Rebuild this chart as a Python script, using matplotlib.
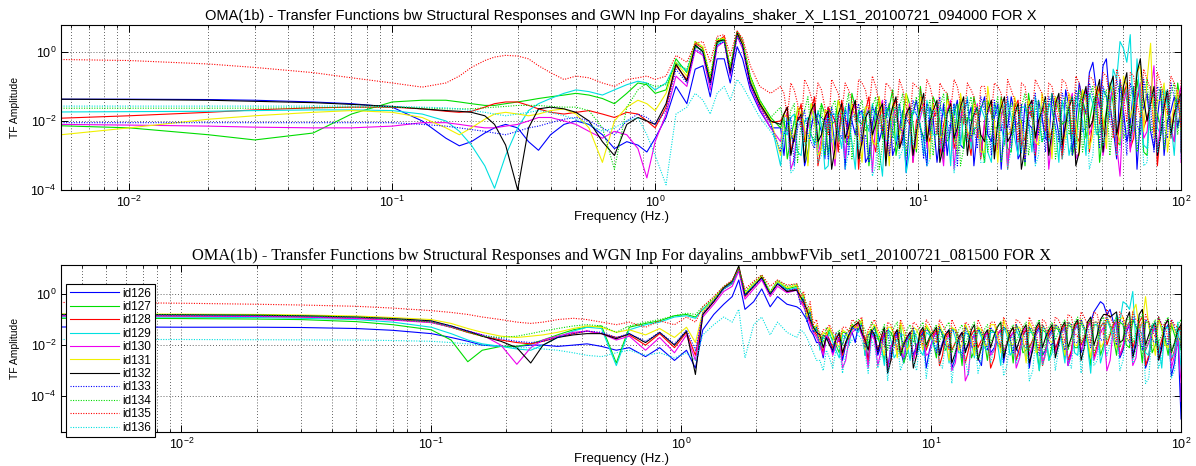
import numpy as np
import matplotlib
matplotlib.use("Agg")
import matplotlib.pyplot as plt
from matplotlib.ticker import FixedLocator, LogLocator, NullLocator

#############################
#####       DATOS       #####
#############################

ids = ['id126', 'id127', 'id128', 'id129', 'id130', 'id131',
       'id132', 'id133', 'id134', 'id135', 'id136']
colores = ['#0000ff', '#00dd00', '#ff0000', '#00e0e0', '#ee00ee', '#f0f000',
           '#000000', '#0000ff', '#00dd00', '#ff0000', '#00e0e0']
estilos = ['-'] * 7 + [':'] * 4

titulo_sup = ("OMA(1b) - Transfer Functions bw Structural Responses and GWN Inp "
              "For dayalins_shaker_X_L1S1_20100721_094000 FOR X")
titulo_inf = ("OMA(1b) - Transfer Functions bw Structural Responses and WGN Inp "
              "For dayalins_ambbwFVib_set1_20100721_081500 FOR X")

# frecuencias (Hz) de la parte suave de cada panel
f_lo_sup = [0.0055, 0.01, 0.02, 0.03, 0.05, 0.07, 0.1, 0.13, 0.16, 0.18,
            0.2, 0.225, 0.245, 0.27, 0.3, 0.33, 0.36, 0.4, 0.45, 0.5,
            0.56, 0.63, 0.7, 0.78, 0.86, 0.93, 1.0, 1.1, 1.2, 1.32,
            1.42, 1.52, 1.62, 1.72, 1.83, 1.93, 2.05, 2.15, 2.3, 2.5,
            2.75]
f_lo_inf = [0.0033, 0.006, 0.01, 0.02, 0.03, 0.05, 0.07, 0.1, 0.12, 0.14,
            0.16, 0.19, 0.22, 0.25, 0.28, 0.32, 0.37, 0.42, 0.48, 0.55,
            0.62, 0.72, 0.82, 0.94, 1.05, 1.14, 1.22, 1.35, 1.48, 1.6,
            1.7, 1.8, 1.95, 2.1, 2.27, 2.43, 2.65, 2.9]

# frecuencias (Hz) de la parte ruidosa: rejilla a y rejilla b (intercaladas)
f_hi_a = [3.00, 3.18, 3.38, 3.59, 3.81, 4.04, 4.29, 4.55, 4.83, 5.12,
          5.44, 5.77, 6.12, 6.50, 6.90, 7.32, 7.77, 8.24, 8.75, 9.28,
          9.85, 10.5, 11.1, 11.8, 12.5, 13.3, 14.1, 14.9, 15.9, 16.8,
          17.9, 19.0, 20.1, 21.3, 22.6, 24.0, 25.5, 27.1, 28.7, 30.5,
          32.3, 34.3, 36.4, 38.6, 41.0, 43.5, 46.2, 49.0, 52.0, 55.2,
          58.6, 62.2, 66.0, 70.0, 74.3, 78.9, 83.7, 88.8, 94.2, 100.0]
f_hi_b = [3.09, 3.28, 3.48, 3.70, 3.92, 4.16, 4.42, 4.69, 4.97, 5.28,
          5.60, 5.94, 6.31, 6.70, 7.11, 7.54, 8.00, 8.49, 9.01, 9.56,
          10.2, 10.8, 11.4, 12.1, 12.9, 13.7, 14.5, 15.4, 16.3, 17.3,
          18.4, 19.5, 20.7, 21.9, 23.3, 24.7, 26.3, 27.9, 29.6, 31.4,
          33.3, 35.3, 37.5, 39.8, 42.2, 44.8, 47.6, 50.5, 53.6, 56.9,
          60.4, 64.1, 68.0, 72.1, 76.6, 81.3, 86.2, 91.5, 97.1, 100.0]

# ---- panel superior (shaker), log10 de la amplitud ----
sup_lo_126 = [-1.37, -1.37, -1.38, -1.40, -1.45, -1.50, -1.60, -2.00, -2.50, -2.72,
              -2.60, -2.35, -2.20, -2.10, -2.20, -2.60, -2.85, -2.40, -2.10, -2.00,
              -2.10, -2.40, -2.80, -2.60, -2.70, -2.90, -2.50, -1.90, -1.00, -1.50,
              -0.50, -0.40, -1.30, -0.20, -0.20, -0.90, 0.15, -0.20, -1.10, -1.70,
              -2.20]
sup_lo_127 = [-2.14, -2.20, -2.40, -2.55, -2.35, -1.80, -1.45, -1.40, -1.40, -1.45,
              -1.50, -1.55, -1.55, -1.50, -1.45, -1.40, -1.35, -1.30, -1.25, -1.20,
              -1.25, -1.35, -1.50, -1.20, -0.90, -0.95, -1.20, -1.10, -0.20, -0.60,
              0.15, 0.05, -0.80, 0.25, 0.40, -0.45, 0.50, 0.25, -0.70, -1.40,
              -1.90]
sup_lo_128 = [-1.92, -1.85, -1.75, -1.68, -1.62, -1.60, -1.60, -1.65, -1.72, -1.75,
              -1.72, -1.60, -1.50, -1.45, -1.45, -1.55, -1.65, -1.75, -1.80, -1.75,
              -1.70, -1.80, -1.90, -1.75, -1.80, -2.00, -2.20, -1.60, -0.40, -0.80,
              0.25, 0.10, -0.85, 0.30, 0.45, -0.55, 0.60, 0.30, -0.85, -1.55,
              -2.05]
sup_lo_129 = [-1.74, -1.73, -1.72, -1.70, -1.68, -1.68, -1.70, -1.80, -2.00, -2.30,
              -2.70, -3.30, -3.95, -3.00, -2.20, -1.70, -1.50, -1.35, -1.20, -1.10,
              -1.15, -1.25, -1.10, -0.95, -0.85, -0.90, -1.10, -0.90, -0.30, -0.55,
              0.20, 0.00, -0.90, 0.20, 0.35, -0.60, 0.55, 0.20, -0.80, -1.50,
              -2.00]
sup_lo_130 = [-2.10, -2.12, -2.15, -2.18, -2.20, -2.20, -2.15, -2.05, -2.05, -2.10,
              -2.15, -2.20, -2.20, -2.15, -2.10, -2.00, -1.90, -1.90, -2.00, -2.10,
              -2.30, -2.50, -2.30, -2.40, -2.80, -3.65, -2.60, -1.80, -0.70, -1.00,
              0.05, -0.10, -1.10, 0.15, 0.30, -0.70, 0.45, 0.10, -1.00, -1.65,
              -2.20]
sup_lo_131 = [-2.40, -2.20, -1.95, -1.85, -1.75, -1.70, -1.75, -1.90, -2.20, -2.40,
              -2.20, -1.95, -1.80, -1.75, -1.80, -1.85, -1.80, -1.70, -1.65, -1.80,
              -2.20, -3.20, -2.00, -1.60, -1.40, -1.50, -1.70, -1.20, -0.30, -0.70,
              0.30, 0.15, -0.75, 0.35, 0.40, -0.45, 0.50, 0.25, -0.75, -1.45,
              -1.95]
sup_lo_132 = [-1.37, -1.38, -1.40, -1.43, -1.47, -1.52, -1.58, -1.65, -1.70, -1.72,
              -1.75, -1.85, -2.10, -2.70, -4.00, -2.20, -1.65, -1.60, -1.65, -1.75,
              -2.00, -2.60, -3.00, -2.10, -1.90, -2.00, -2.10, -1.50, -0.35, -0.85,
              0.20, 0.00, -0.90, 0.30, 0.35, -0.60, 0.55, 0.20, -0.90, -1.50,
              -2.00]
sup_lo_133 = [-2.05, -2.05, -2.05, -2.05, -2.05, -2.05, -2.05, -2.10, -2.15, -2.20,
              -2.25, -2.30, -2.35, -2.40, -2.30, -2.20, -2.15, -2.05, -1.95, -1.90,
              -2.00, -2.20, -2.40, -2.00, -1.80, -1.90, -2.10, -1.70, -0.50, -0.90,
              0.10, -0.05, -0.95, 0.20, 0.30, -0.65, 0.45, 0.15, -0.95, -1.60,
              -2.10]
sup_lo_134 = [-1.63, -1.63, -1.63, -1.63, -1.62, -1.60, -1.60, -1.62, -1.65, -1.65,
              -1.65, -1.62, -1.60, -1.58, -1.55, -1.55, -1.55, -1.58, -1.60, -1.60,
              -1.70, -2.20, -3.40, -1.60, -1.10, -0.90, -1.00, -0.95, -0.35, -0.50,
              0.30, 0.10, -0.70, 0.40, 0.35, -0.40, 0.60, 0.35, -0.70, -1.40,
              -1.90]
sup_lo_135 = [-0.22, -0.25, -0.35, -0.45, -0.60, -0.75, -0.90, -1.02, -0.90, -0.70,
              -0.45, -0.25, -0.15, -0.10, -0.12, -0.20, -0.40, -0.60, -0.80, -0.70,
              -0.75, -0.90, -1.00, -0.80, -0.75, -0.70, -0.80, -0.70, -0.10, -0.30,
              0.25, 0.30, -0.30, 0.45, 0.50, -0.10, 0.60, 0.40, -0.40, -1.00,
              -1.20]
sup_lo_136 = [-1.57, -1.57, -1.57, -1.57, -1.57, -1.57, -1.58, -1.60, -1.62, -1.65,
              -1.70, -1.75, -1.80, -1.85, -1.80, -1.75, -1.70, -1.75, -1.85, -1.95,
              -2.10, -2.30, -2.20, -2.00, -1.90, -2.40, -3.00, -3.85, -1.80, -1.60,
              -1.20, -1.40, -1.80, -1.20, -1.00, -1.40, -0.80, -1.00, -1.40, -1.90,
              -2.30]

# valores en la rejilla a
sup_ha_126 = [-2.2, -1.8, -2.6, -1.9, -2.9, -1.7, -2.3, -1.6, -2.8, -1.8,
              -1.5, -2.4, -1.7, -3.0, -1.6, -2.2, -1.5, -2.7, -1.7, -2.0,
              -1.4, -2.5, -1.6, -3.2, -1.5, -2.1, -1.4, -2.8, -1.6, -2.3,
              -1.3, -2.6, -1.5, -2.0, -1.3, -3.1, -1.5, -2.2, -1.4, -2.5,
              -1.2, -2.4, -1.1, -2.9, -0.9, -1.8, -0.3, -1.6, -0.2, -2.2,
              -0.8, -2.6, -1.0, -1.9, -1.2, -2.8, -1.1, -2.0, -1.3, -1.6]
sup_ha_127 = [-1.9, -2.5, -1.7, -2.3, -1.5, -2.8, -1.8, -2.1, -1.4, -2.6,
              -1.2, -2.0, -1.6, -2.5, -1.3, -1.9, -1.1, -2.4, -1.2, -2.1,
              -1.0, -2.3, -1.3, -2.0, -1.2, -2.6, -1.4, -1.9, -1.3, -2.5,
              -1.4, -2.2, -1.3, -2.8, -1.5, -2.0, -1.2, -2.4, -1.6, -2.9,
              -1.3, -2.1, -1.4, -2.6, -1.1, -2.0, -1.2, -2.3, -0.9, -2.6,
              -1.0, -2.2, -0.8, -2.9, -1.0, -1.8, -1.1, -2.4, -0.9, -1.7]
sup_ha_128 = [-2.0, -1.6, -2.4, -1.5, -2.1, -1.3, -2.7, -1.6, -2.0, -1.4,
              -2.5, -1.5, -2.2, -1.3, -2.9, -1.6, -2.1, -1.4, -2.3, -1.7,
              -2.0, -1.5, -2.6, -1.7, -2.1, -1.5, -2.4, -1.6, -3.0, -1.8,
              -2.1, -1.5, -2.7, -1.6, -2.2, -1.4, -2.5, -1.7, -2.0, -1.5,
              -2.3, -1.4, -2.0, -1.3, -2.6, -1.2, -1.9, -1.0, -2.4, -1.1,
              -1.8, -0.9, -2.5, -1.0, -1.9, -1.2, -2.2, -1.1, -1.7, -1.3]
sup_ha_129 = [-2.3, -1.9, -2.9, -2.0, -2.4, -1.7, -3.4, -1.8, -2.2, -1.6,
              -2.6, -1.7, -2.0, -1.5, -2.8, -1.6, -2.3, -1.5, -3.5, -1.7,
              -2.1, -1.4, -2.4, -1.6, -2.0, -1.5, -2.7, -1.3, -2.2, -1.6,
              -2.9, -1.5, -2.1, -1.4, -2.5, -1.6, -2.0, -1.3, -2.6, -1.5,
              -2.2, -1.4, -3.0, -1.3, -2.0, -1.2, -2.4, -1.1, -1.9, -0.8,
              0.10, 0.50, -0.2, -2.7, -1.3, -2.2, -1.0, -2.0, -1.4, -1.8]
sup_ha_130 = [-2.6, -1.8, -3.1, -1.9, -2.2, -1.6, -2.5, -1.7, -3.3, -1.8,
              -2.1, -1.5, -2.7, -1.6, -2.0, -1.4, -3.0, -1.6, -2.3, -1.5,
              -2.4, -1.5, -2.1, -1.6, -3.3, -1.4, -2.2, -1.6, -2.6, -1.5,
              -2.0, -1.4, -2.8, -1.5, -2.3, -1.6, -3.1, -1.4, -2.1, -1.5,
              -2.5, -1.3, -2.2, -1.2, -2.9, -1.1, -2.1, -1.3, -2.4, -1.0,
              -3.6, -1.1, -2.0, -0.9, -2.3, -0.4, -1.9, -1.2, -2.6, -1.0]
sup_ha_131 = [-1.8, -2.4, -1.6, -2.2, -1.5, -3.0, -1.7, -2.1, -1.4, -2.5,
              -1.5, -2.2, -1.6, -2.6, -1.3, -2.0, -1.5, -2.4, -1.2, -2.8,
              -1.3, -2.1, -1.5, -2.5, -1.4, -2.0, -1.2, -2.3, -1.5, -2.9,
              -1.0, -2.0, -1.4, -2.4, -1.3, -2.1, -1.4, -2.6, -1.2, -2.0,
              -1.3, -2.5, -1.2, -2.1, -1.1, -2.8, -1.0, -1.9, -0.9, -2.3,
              -0.7, -1.9, -0.6, -2.3, 0.25, -1.4, -0.9, -2.1, -1.1, -1.8]
sup_ha_132 = [-2.1, -1.6, -2.5, -1.8, -2.0, -1.5, -2.4, -1.7, -2.8, -1.5,
              -2.2, -1.4, -2.6, -1.7, -2.1, -1.5, -2.0, -1.3, -2.5, -1.6,
              -2.3, -1.2, -2.0, -1.4, -2.7, -1.5, -2.2, -1.3, -2.1, -1.6,
              -2.6, -1.4, -2.0, -1.3, -2.4, -1.5, -2.8, -1.4, -2.0, -1.3,
              -2.3, -1.2, -2.1, -1.3, -2.9, -1.0, -2.0, -0.8, -1.8, -0.7,
              -1.9, -0.6, -1.7, -0.2, -2.0, -1.0, -2.4, -1.1, -1.8, -1.2]
sup_ha_133 = [-2.4, -1.9, -2.2, -1.7, -2.6, -1.8, -2.0, -1.6, -2.3, -1.7,
              -1.9, -1.5, -2.4, -1.6, -2.0, -1.4, -2.2, -1.5, -1.9, -1.4,
              -2.2, -1.5, -1.9, -1.3, -2.4, -1.5, -2.0, -1.4, -2.2, -1.3,
              -1.9, -1.4, -2.3, -1.3, -2.0, -1.5, -2.1, -1.2, -1.8, -1.3,
              -2.2, -1.2, -1.8, -1.1, -2.3, -0.9, -1.7, -1.0, -2.0, -0.8,
              -1.8, -0.9, -2.1, -0.8, -1.6, -1.0, -2.2, -0.9, -1.5, -1.1]
sup_ha_134 = [-1.6, -2.3, -1.5, -2.0, -1.3, -2.6, -1.5, -2.2, -1.4, -1.9,
              -1.2, -2.4, -1.4, -2.1, -1.3, -2.7, -1.5, -2.0, -1.2, -2.3,
              -1.3, -2.5, -1.4, -2.0, -1.2, -2.3, -1.5, -2.8, -1.3, -2.0,
              -1.4, -2.2, -1.3, -2.6, -1.5, -2.1, -1.2, -2.3, -1.4, -2.0,
              -1.2, -2.4, -1.3, -2.0, -1.1, -2.2, -1.0, -2.5, -1.1, -2.0,
              -0.9, -2.3, -1.0, -1.9, -0.8, -2.1, -1.0, -1.8, -0.9, -1.6]
sup_ha_135 = [-1.2, -0.9, -1.5, -0.8, -1.3, -0.9, -1.6, -0.8, -1.2, -0.9,
              -1.4, -0.8, -1.1, -0.7, -1.5, -0.9, -1.2, -0.8, -1.6, -0.9,
              -1.1, -0.8, -1.4, -0.9, -1.2, -0.8, -1.5, -0.9, -1.3, -1.0,
              -1.6, -0.9, -1.2, -0.8, -1.4, -0.9, -1.7, -0.8, -1.2, -0.9,
              -1.5, -0.8, -1.3, -0.7, -1.6, -0.7, -1.2, -0.6, -1.4, -0.5,
              -1.3, -0.6, -1.5, -0.5, -1.1, -0.6, -1.4, -0.7, -1.2, -0.8]
sup_ha_136 = [-2.8, -2.0, -3.4, -2.1, -2.6, -1.8, -3.0, -1.9, -2.4, -1.7,
              -2.9, -1.8, -2.3, -1.7, -3.3, -1.8, -2.5, -1.6, -2.8, -1.7,
              -2.2, -1.6, -3.1, -1.7, -2.4, -1.6, -2.9, -1.5, -2.3, -1.6,
              -3.2, -1.6, -2.5, -1.5, -2.8, -1.6, -2.2, -1.5, -3.0, -1.4,
              -2.4, -1.4, -2.7, -1.3, -2.1, -1.2, -3.0, -1.2, -2.3, -1.0,
              -2.8, -1.1, -2.0, -1.0, -3.2, -1.2, -2.4, -1.1, -2.1, -1.3]

# valores en la rejilla b
sup_hb_126 = [-3.0, -2.4, -1.9, -3.3, -2.2, -2.0, -3.1, -1.9, -2.4, -3.4,
              -2.0, -1.8, -3.2, -2.1, -2.6, -1.9, -3.0, -2.2, -3.5, -1.8,
              -2.2, -3.3, -1.9, -2.5, -3.0, -1.8, -2.7, -2.0, -3.3, -1.7,
              -2.4, -1.9, -3.4, -2.2, -1.8, -2.9, -2.1, -3.2, -1.9, -2.6,
              -1.8, -3.0, -1.6, -2.0, -1.4, -0.6, -1.1, -0.4, -1.5, -3.1,
              -1.7, -2.1, -3.4, -1.6, -2.3, -1.9, -3.0, -1.7, -2.2, -1.9]
sup_hb_127 = [-2.2, -3.1, -2.0, -1.6, -3.2, -2.0, -1.5, -3.0, -2.0, -1.7,
              -2.7, -1.6, -2.1, -3.3, -1.7, -2.5, -1.6, -3.0, -1.8, -1.5,
              -2.9, -1.8, -2.4, -1.6, -3.1, -1.9, -1.7, -2.8, -2.0, -1.8,
              -3.2, -1.8, -2.2, -1.9, -2.9, -1.7, -3.3, -1.9, -2.1, -1.8,
              -2.8, -1.7, -2.0, -3.0, -1.6, -2.5, -1.5, -3.2, -1.7, -1.5,
              -2.7, -1.4, -2.1, -1.5, -3.0, -1.6, -2.2, -1.4, -2.6, -1.6]
sup_hb_128 = [-1.8, -2.9, -1.9, -2.6, -1.7, -3.3, -2.0, -1.8, -2.9, -1.9,
              -1.8, -3.4, -1.7, -2.5, -1.9, -3.1, -1.6, -2.8, -1.9, -3.2,
              -1.7, -2.3, -1.9, -3.0, -1.7, -2.8, -1.9, -2.4, -1.8, -3.1,
              -1.7, -2.9, -1.8, -3.4, -1.6, -2.7, -1.8, -3.0, -1.7, -2.5,
              -1.6, -3.1, -1.6, -2.4, -1.5, -2.9, -1.4, -2.2, -1.5, -3.0,
              -1.3, -2.8, -1.4, -2.2, -1.5, -3.3, -1.4, -2.5, -1.6, -2.0]
sup_hb_129 = [-3.3, -2.4, -1.8, -3.0, -1.9, -2.7, -2.1, -3.3, -1.8, -2.8,
              -2.0, -3.4, -1.8, -2.3, -2.0, -3.6, -1.9, -2.6, -2.2, -2.9,
              -1.8, -3.0, -1.9, -2.4, -1.8, -3.3, -2.0, -1.9, -2.8, -2.2,
              -1.9, -3.2, -1.8, -2.7, -1.9, -3.0, -1.6, -2.9, -1.8, -2.4,
              -1.7, -3.2, -1.9, -2.5, -1.6, -3.0, -1.5, -2.3, -1.3, -0.5,
              0.3, -0.3, -2.3, -1.6, -2.8, -1.5, -2.4, -1.6, -3.0, -2.0]
sup_hb_130 = [-1.9, -3.4, -2.0, -2.4, -1.8, -3.0, -2.1, -2.6, -1.9, -3.1,
              -1.8, -2.4, -1.9, -3.5, -1.7, -2.6, -1.9, -2.2, -1.8, -3.2,
              -1.9, -2.8, -1.8, -2.5, -1.7, -3.4, -1.9, -2.3, -1.8, -3.0,
              -1.8, -2.5, -1.9, -3.3, -1.8, -2.2, -1.7, -2.9, -1.8, -3.4,
              -1.7, -2.6, -1.5, -3.1, -1.5, -2.4, -1.6, -3.0, -1.4, -2.7,
              -1.5, -2.9, -1.3, -2.5, -1.2, -3.0, -1.5, -2.2, -1.4, -3.2]
sup_hb_131 = [-3.0, -1.9, -2.5, -1.8, -3.3, -2.0, -2.8, -1.7, -3.1, -1.8,
              -2.4, -1.9, -3.2, -1.6, -2.7, -1.8, -3.3, -1.6, -2.2, -1.9,
              -2.8, -1.7, -3.1, -1.8, -2.4, -1.6, -3.0, -1.8, -2.5, -1.6,
              -2.9, -1.8, -3.2, -1.7, -2.3, -1.8, -3.0, -1.6, -2.7, -1.7,
              -3.1, -1.6, -2.5, -1.5, -3.0, -1.4, -2.4, -1.3, -2.8, -1.2,
              -2.6, -1.0, -1.5, -0.4, -0.8, -2.5, -1.4, -2.9, -1.5, -2.3]
sup_hb_132 = [-1.8, -3.0, -2.0, -3.2, -1.7, -2.6, -1.9, -3.4, -1.8, -2.5,
              -1.7, -3.1, -1.9, -2.4, -1.7, -3.3, -1.6, -2.8, -1.8, -3.0,
              -1.6, -2.6, -1.7, -3.2, -1.8, -2.5, -1.6, -3.0, -1.8, -2.4,
              -1.7, -3.1, -1.6, -2.6, -1.8, -3.4, -1.6, -2.5, -1.7, -3.0,
              -1.5, -2.7, -1.6, -3.3, -1.4, -2.2, -1.2, -2.9, -1.0, -2.4,
              -1.0, -2.6, -0.6, -1.4, -1.5, -3.0, -1.6, -2.4, -1.5, -2.9]
sup_hb_133 = [-2.9, -2.1, -3.3, -2.0, -2.4, -2.8, -1.9, -3.1, -2.0, -2.5,
              -3.0, -1.8, -2.6, -3.2, -1.8, -2.4, -3.0, -1.8, -2.7, -2.1,
              -1.8, -3.1, -2.3, -1.8, -2.9, -2.0, -3.3, -1.8, -2.5, -2.8,
              -1.7, -3.0, -2.0, -1.8, -2.8, -2.1, -3.2, -1.6, -2.4, -2.9,
              -1.6, -2.6, -1.5, -3.0, -1.4, -2.2, -1.3, -2.8, -1.3, -2.3,
              -1.3, -3.0, -1.3, -2.4, -1.4, -2.9, -1.2, -2.5, -1.3, -2.1]
sup_hb_134 = [-2.1, -1.7, -3.2, -1.7, -2.4, -1.8, -3.0, -1.6, -2.6, -1.7,
              -3.1, -1.7, -2.3, -1.6, -3.4, -1.8, -2.5, -1.6, -3.0, -1.7,
              -2.2, -1.7, -3.0, -1.6, -2.6, -1.8, -3.3, -1.7, -2.4, -1.6,
              -2.9, -1.7, -3.2, -1.8, -2.3, -1.6, -3.0, -1.7, -2.6, -1.6,
              -3.1, -1.6, -2.4, -1.4, -2.9, -1.3, -2.3, -1.4, -3.0, -1.3,
              -2.5, -1.3, -2.9, -1.2, -2.3, -1.3, -2.8, -1.2, -2.4, -1.4]
sup_hb_135 = [-1.0, -1.9, -1.1, -2.2, -1.0, -1.7, -1.1, -2.4, -1.0, -1.8,
              -1.1, -2.0, -0.9, -1.7, -1.0, -2.3, -1.0, -1.9, -1.1, -2.1,
              -1.0, -1.8, -1.0, -2.4, -1.1, -1.7, -1.0, -2.1, -1.1, -2.5,
              -1.0, -1.8, -1.0, -2.2, -1.1, -2.6, -1.0, -1.9, -1.0, -2.3,
              -1.0, -2.0, -0.9, -2.4, -0.9, -1.8, -0.8, -2.1, -0.7, -2.5,
              -0.8, -2.0, -0.7, -1.9, -0.8, -2.3, -0.9, -1.8, -0.9, -2.2]
sup_hb_136 = [-1.9, -3.5, -2.0, -2.7, -1.9, -3.2, -2.0, -2.6, -1.8, -3.4,
              -1.9, -2.8, -1.8, -3.6, -1.9, -2.6, -1.8, -3.1, -1.9, -2.7,
              -1.8, -3.3, -1.7, -2.8, -1.8, -3.5, -1.7, -2.6, -1.8, -3.2,
              -1.7, -2.7, -1.8, -3.4, -1.7, -2.9, -1.6, -3.3, -1.6, -2.6,
              -1.6, -3.1, -1.5, -2.8, -1.4, -3.4, -1.3, -2.7, -1.2, -3.0,
              -1.3, -2.6, -1.2, -3.3, -1.3, -2.9, -1.2, -2.5, -1.4, -3.1]

# ---- panel inferior (ambiental), log10 de la amplitud ----
inf_lo_126 = [-1.29, -1.29, -1.30, -1.30, -1.31, -1.35, -1.42, -1.55, -1.70, -1.85,
              -2.00, -2.05, -2.05, -2.00, -2.00, -2.05, -2.00, -1.95, -2.05, -2.20,
              -2.10, -2.45, -2.10, -2.60, -2.20, -2.90, -1.40, -0.80, -0.40, -0.10,
              0.55, -0.60, -0.30, 0.20, -0.50, -0.10, -0.40, -0.50]
inf_lo_127 = [-0.95, -0.95, -0.96, -0.98, -1.00, -1.08, -1.20, -1.40, -1.80, -2.65,
              -2.20, -2.05, -2.05, -1.95, -1.80, -1.60, -1.40, -1.30, -1.25, -2.70,
              -1.30, -1.15, -1.05, -0.85, -0.80, -0.90, -0.60, -0.20, 0.25, 0.45,
              1.00, 0.00, 0.35, 0.70, 0.05, 0.50, 0.20, 0.30]
inf_lo_128 = [-0.86, -0.86, -0.87, -0.88, -0.90, -0.95, -1.00, -1.10, -1.30, -1.50,
              -1.65, -1.80, -1.90, -1.95, -1.85, -1.70, -1.55, -1.45, -1.55, -1.70,
              -1.60, -2.00, -1.55, -2.10, -1.50, -2.40, -0.80, -0.30, 0.20, 0.40,
              1.00, -0.10, 0.30, 0.65, 0.00, 0.40, 0.10, 0.20]
inf_lo_129 = [-0.90, -0.90, -0.91, -0.92, -0.95, -1.00, -1.10, -1.30, -1.55, -1.80,
              -1.95, -2.05, -2.15, -2.20, -2.00, -1.70, -1.45, -1.30, -1.35, -2.80,
              -1.40, -1.20, -1.10, -0.90, -0.85, -0.95, -0.60, -0.25, 0.20, 0.40,
              0.95, -0.05, 0.35, 0.70, 0.00, 0.45, 0.15, 0.25]
inf_lo_130 = [-0.85, -0.85, -0.86, -0.88, -0.90, -0.96, -1.02, -1.12, -1.30, -1.45,
              -1.60, -2.00, -2.75, -2.10, -1.80, -1.65, -1.50, -1.45, -1.55, -1.80,
              -1.65, -2.20, -1.70, -2.30, -1.60, -2.60, -0.90, -0.40, 0.10, 0.30,
              0.90, -0.20, 0.20, 0.55, -0.10, 0.30, 0.05, 0.15]
inf_lo_131 = [-0.78, -0.78, -0.79, -0.80, -0.82, -0.86, -0.92, -1.00, -1.15, -1.35,
              -1.50, -1.65, -1.70, -1.65, -1.60, -1.50, -1.35, -1.25, -1.30, -1.50,
              -1.40, -1.60, -1.35, -1.70, -1.30, -1.90, -0.70, -0.20, 0.25, 0.50,
              1.05, 0.05, 0.40, 0.70, 0.05, 0.50, 0.25, 0.35]
inf_lo_132 = [-0.80, -0.80, -0.81, -0.83, -0.85, -0.90, -0.96, -1.05, -1.25, -1.45,
              -1.65, -1.85, -2.10, -2.70, -2.00, -1.70, -1.60, -1.55, -1.55, -1.75,
              -1.55, -1.90, -1.50, -2.00, -1.45, -3.15, -0.80, -0.30, 0.25, 0.50,
              1.10, -0.05, 0.30, 0.65, 0.00, 0.40, 0.10, 0.15]
inf_lo_133 = [-0.82, -0.82, -0.83, -0.85, -0.87, -0.92, -0.98, -1.08, -1.25, -1.45,
              -1.60, -1.75, -1.85, -1.90, -1.85, -1.70, -1.55, -1.45, -1.50, -1.70,
              -1.55, -1.85, -1.50, -1.95, -1.40, -2.20, -0.75, -0.25, 0.20, 0.45,
              1.00, -0.05, 0.30, 0.60, 0.00, 0.40, 0.15, 0.20]
inf_lo_134 = [-0.80, -0.80, -0.81, -0.82, -0.85, -0.90, -0.98, -1.10, -1.30, -1.50,
              -1.65, -1.70, -1.65, -1.55, -1.45, -1.35, -1.25, -1.20, -1.25, -1.50,
              -1.25, -1.10, -1.00, -0.85, -0.75, -0.80, -0.50, -0.15, 0.30, 0.50,
              1.00, 0.10, 0.45, 0.75, 0.10, 0.55, 0.30, 0.40]
inf_lo_135 = [-0.33, -0.34, -0.36, -0.40, -0.43, -0.48, -0.55, -0.65, -0.72, -0.80,
              -0.90, -1.00, -1.10, -1.15, -1.10, -1.00, -0.95, -1.00, -1.10, -1.20,
              -1.10, -1.30, -1.05, -1.20, -0.90, -1.10, -0.50, -0.10, 0.30, 0.55,
              1.00, 0.20, 0.50, 0.75, 0.30, 0.55, 0.35, 0.40]
inf_lo_136 = [-1.78, -1.78, -1.78, -1.79, -1.80, -1.80, -1.82, -1.85, -1.90, -1.95,
              -2.00, -2.05, -2.10, -2.10, -2.15, -2.20, -2.30, -2.40, -2.45, -2.30,
              -2.20, -2.40, -2.30, -2.50, -2.30, -2.60, -1.60, -1.20, -0.90, -1.10,
              -0.60, -2.50, -1.20, -0.90, -1.60, -1.10, -1.50, -1.70]

inf_ha_126 = [-0.6, -1.0, -1.6, -1.9, -1.6, -2.3, -1.7, -2.0, -1.5, -1.2,
              -1.8, -1.5, -2.4, -1.6, -2.1, -1.5, -2.7, -1.6, -2.0, -1.5,
              -2.2, -1.5, -1.9, -1.4, -2.5, -1.5, -2.0, -1.6, -2.8, -1.5,
              -2.1, -1.4, -1.9, -1.5, -2.4, -1.4, -2.0, -1.3, -2.2, -1.4,
              -1.9, -1.3, -2.3, -1.2, -1.8, -1.1, -0.5, -0.4, -0.6, -1.3,
              -2.2, -1.2, -1.8, -1.1, -2.5, -1.3, -2.0, -1.2, -2.7, -4.9]
inf_ha_127 = [-0.1, -0.6, -1.3, -1.6, -1.4, -2.0, -1.5, -1.8, -1.3, -1.0,
              -1.6, -1.3, -2.1, -1.4, -1.8, -1.2, -2.3, -1.4, -1.7, -1.3,
              -1.9, -1.3, -2.2, -1.4, -1.7, -1.2, -2.5, -1.3, -1.8, -1.4,
              -2.0, -1.3, -1.7, -1.2, -2.3, -1.3, -1.8, -1.4, -2.6, -1.3,
              -1.7, -1.2, -2.1, -1.1, -1.8, -1.2, -2.4, -1.0, -1.7, -1.1,
              -2.0, -1.0, -1.6, -1.1, -2.3, -0.9, -1.7, -1.2, -2.0, -1.4]
inf_ha_128 = [-0.2, -0.7, -1.4, -1.8, -1.5, -2.1, -1.6, -1.9, -1.4, -1.1,
              -1.7, -1.4, -2.2, -1.5, -2.6, -1.4, -1.9, -1.5, -2.1, -1.4,
              -1.8, -1.4, -2.4, -1.5, -1.9, -1.6, -2.2, -1.4, -1.8, -1.5,
              -2.5, -1.4, -1.9, -1.3, -2.1, -1.4, -1.8, -1.2, -2.3, -1.3,
              -1.8, -1.2, -2.2, -1.1, -1.7, -1.0, -2.0, -1.1, -1.6, -1.0,
              -2.1, -1.1, -1.7, -0.9, -2.4, -1.2, -1.8, -1.0, -2.2, -1.3]
inf_ha_129 = [-0.1, -0.6, -1.3, -1.7, -1.5, -2.2, -1.6, -2.0, -1.4, -1.1,
              -1.9, -1.5, -2.0, -1.3, -2.5, -1.6, -1.9, -1.4, -2.2, -1.5,
              -2.0, -1.4, -1.8, -1.3, -2.3, -1.5, -1.9, -1.4, -2.1, -1.5,
              -1.9, -1.3, -2.4, -1.4, -1.8, -1.5, -2.2, -1.3, -2.6, -1.2,
              -1.9, -1.1, -2.3, -1.0, -2.0, -1.2, -2.7, -1.0, -1.8, -1.1,
              -0.4, 0.1, -1.4, -2.3, -1.2, -1.9, -1.3, -2.5, -1.1, -3.2]
inf_ha_130 = [-0.3, -0.8, -1.5, -2.0, -1.6, -2.4, -1.7, -2.6, -1.5, -1.2,
              -2.0, -1.6, -2.8, -1.5, -2.1, -1.6, -2.5, -1.5, -2.0, -1.7,
              -2.3, -1.5, -2.0, -1.6, -2.7, -1.5, -3.1, -1.6, -2.0, -1.5,
              -2.2, -1.4, -1.9, -1.5, -2.5, -1.3, -2.0, -1.4, -2.3, -1.5,
              -2.0, -1.3, -2.4, -1.2, -1.9, -1.1, -2.2, -1.3, -2.6, -1.1,
              -2.0, -1.2, -2.5, -1.1, -1.9, -1.3, -2.2, -1.0, -2.4, -3.5]
inf_ha_131 = [0.0, -0.5, -1.2, -1.5, -1.3, -1.9, -1.4, -1.7, -1.3, -1.0,
              -1.5, -1.2, -1.9, -1.3, -1.6, -1.1, -2.2, -1.3, -1.7, -1.2,
              -1.8, -1.2, -1.6, -1.3, -2.2, -1.2, -1.7, -1.3, -2.0, -1.2,
              -1.6, -1.0, -1.9, -1.3, -1.7, -1.1, -2.3, -1.2, -1.8, -1.2,
              -1.6, -1.1, -2.0, -1.0, -1.7, -1.1, -2.1, -0.9, -1.6, -1.0,
              -1.8, -0.7, -1.4, -0.1, -1.6, -1.0, -2.0, -1.1, -1.7, -1.2]
inf_ha_132 = [-0.1, -0.6, -1.3, -1.6, -1.7, -2.2, -1.5, -1.9, -1.3, -1.1,
              -1.8, -1.4, -2.3, -1.3, -2.6, -1.4, -2.0, -1.5, -2.4, -1.3,
              -1.7, -1.3, -2.0, -1.4, -2.3, -1.5, -1.9, -1.2, -2.1, -1.4,
              -1.6, -1.1, -2.0, -1.3, -1.8, -1.2, -2.2, -1.1, -1.7, -1.2,
              -2.0, -1.1, -1.7, -1.0, -2.1, -0.9, -1.6, -0.8, -0.9, -0.7,
              -1.8, -0.7, -2.0, -0.6, -1.6, -1.1, -2.1, -1.0, -1.9, -1.2]
inf_ha_133 = [-0.2, -0.7, -1.3, -1.6, -1.8, -1.5, -2.0, -1.6, -1.4, -1.2,
              -1.6, -1.3, -1.9, -1.4, -2.1, -1.5, -1.7, -1.3, -2.0, -1.4,
              -1.7, -1.3, -2.0, -1.4, -1.8, -1.3, -2.1, -1.4, -1.7, -1.3,
              -1.9, -1.3, -1.7, -1.2, -2.0, -1.3, -1.8, -1.2, -1.9, -1.2,
              -1.7, -1.1, -1.9, -1.0, -1.6, -1.1, -1.8, -0.9, -1.5, -1.0,
              -1.7, -0.9, -1.5, -1.0, -1.8, -0.9, -1.6, -1.0, -1.7, -1.1]
inf_ha_134 = [0.1, -0.4, -1.2, -1.5, -1.3, -1.8, -1.4, -1.6, -1.2, -1.0,
              -1.4, -1.1, -1.8, -1.2, -1.6, -1.1, -1.9, -1.2, -1.5, -1.1,
              -1.7, -1.2, -1.5, -1.1, -1.9, -1.2, -1.6, -1.1, -2.1, -1.2,
              -1.6, -1.1, -1.9, -1.2, -1.5, -1.1, -1.8, -1.0, -2.0, -1.1,
              -1.5, -1.0, -1.8, -0.9, -1.6, -1.0, -1.9, -0.9, -1.5, -0.9,
              -1.7, -0.9, -1.5, -0.8, -1.8, -1.0, -1.6, -0.9, -1.9, -1.0]
inf_ha_135 = [0.1, -0.3, -1.0, -1.4, -1.2, -1.6, -1.3, -1.5, -1.1, -0.9,
              -1.4, -1.0, -1.6, -1.1, -1.5, -1.0, -1.7, -1.1, -1.4, -1.0,
              -1.5, -1.0, -1.4, -1.0, -1.7, -1.1, -1.5, -1.0, -1.6, -1.1,
              -1.4, -0.9, -1.6, -1.0, -1.3, -0.9, -1.5, -1.0, -1.7, -0.9,
              -1.3, -0.8, -1.5, -0.7, -1.2, -0.7, -1.4, -0.6, -1.2, -0.7,
              -1.3, -0.7, -1.1, -0.8, -1.4, -0.9, -1.2, -1.0, -1.3, -1.1]
inf_ha_136 = [-1.4, -1.7, -2.3, -2.6, -2.2, -2.9, -2.0, -2.4, -1.8, -1.6,
              -2.3, -1.8, -2.9, -1.7, -2.2, -1.8, -2.6, -1.6, -3.0, -1.7,
              -2.4, -1.6, -2.9, -1.7, -2.2, -1.6, -3.2, -1.5, -2.5, -1.6,
              -2.1, -1.5, -2.8, -1.6, -2.3, -1.5, -3.0, -1.4, -2.4, -1.5,
              -2.2, -1.3, -2.9, -1.2, -2.1, -1.3, -2.6, -1.1, -2.0, -1.2,
              -2.6, -1.1, -2.2, -1.2, -3.3, -1.1, -2.5, -1.3, -3.0, -1.4]

inf_hb_126 = [-0.8, -1.4, -1.9, -2.5, -1.8, -2.0, -2.6, -1.6, -1.9, -1.6,
              -2.6, -1.7, -2.0, -2.9, -1.7, -2.2, -1.8, -2.4, -1.7, -2.9,
              -1.7, -2.3, -1.6, -2.9, -1.7, -2.2, -1.8, -2.5, -1.7, -2.3,
              -1.6, -2.7, -1.7, -2.1, -1.6, -2.9, -1.5, -2.4, -1.6, -2.1,
              -1.5, -2.8, -1.4, -2.3, -1.3, -0.7, -0.3, -0.8, -1.1, -2.5,
              -1.5, -2.4, -1.4, -2.9, -1.5, -2.3, -1.4, -3.2, -1.6, -3.5]
inf_hb_127 = [-0.3, -1.0, -1.5, -2.1, -1.7, -1.6, -2.3, -1.5, -1.2, -1.4,
              -2.4, -1.5, -1.7, -2.6, -1.5, -1.8, -2.7, -1.5, -2.3, -1.6,
              -1.5, -2.5, -1.6, -2.0, -1.4, -2.8, -1.5, -2.2, -1.6, -2.6,
              -1.5, -2.1, -1.4, -2.7, -1.5, -2.2, -1.6, -3.0, -1.5, -2.0,
              -1.4, -2.5, -1.3, -2.1, -1.4, -2.8, -1.2, -2.0, -1.3, -2.4,
              -1.2, -2.1, -1.3, -2.7, -1.1, -2.0, -1.4, -2.4, -1.6, -2.2]
inf_hb_128 = [-0.4, -1.1, -1.6, -2.3, -1.8, -1.7, -2.4, -1.6, -1.3, -1.5,
              -2.7, -1.6, -1.8, -2.9, -1.6, -2.3, -1.7, -2.6, -1.6, -2.2,
              -1.6, -2.8, -1.7, -2.2, -1.8, -2.7, -1.6, -2.1, -1.7, -2.9,
              -1.6, -2.4, -1.5, -2.6, -1.6, -2.1, -1.4, -2.8, -1.5, -2.2,
              -1.4, -2.6, -1.3, -2.0, -1.2, -2.5, -1.3, -2.0, -1.2, -2.4,
              -1.3, -2.1, -1.1, -2.8, -1.4, -2.2, -1.2, -2.6, -1.5, -2.0]
inf_hb_129 = [-0.3, -1.0, -1.5, -2.2, -1.8, -1.9, -2.5, -1.7, -1.3, -1.5,
              -2.4, -1.7, -1.6, -2.8, -1.8, -2.3, -1.6, -2.6, -1.7, -2.4,
              -1.6, -2.2, -1.5, -2.7, -1.7, -2.3, -1.6, -2.5, -1.7, -2.2,
              -1.5, -2.8, -1.6, -2.2, -1.7, -2.6, -1.5, -3.0, -1.4, -2.3,
              -1.3, -2.7, -1.2, -2.4, -1.4, -3.1, -1.2, -2.2, -1.3, -0.8,
              -0.3, -0.6, -2.0, -1.6, -2.4, -1.5, -2.9, -1.3, -2.3, -3.0]
inf_hb_130 = [-0.5, -1.2, -1.7, -2.4, -1.9, -2.0, -2.9, -1.8, -1.4, -1.6,
              -2.9, -1.8, -2.2, -3.1, -1.8, -2.2, -1.7, -2.6, -1.9, -2.4,
              -1.7, -2.4, -1.8, -3.0, -1.7, -3.4, -1.8, -2.5, -1.7, -2.4,
              -1.6, -2.3, -1.7, -2.9, -1.5, -2.4, -1.6, -2.7, -1.7, -2.3,
              -1.5, -2.8, -1.4, -2.2, -1.3, -2.6, -1.5, -3.0, -1.3, -2.4,
              -1.4, -2.8, -1.3, -2.2, -1.5, -2.6, -1.2, -2.9, -1.8, -4.2]
inf_hb_131 = [-0.2, -0.9, -1.4, -1.9, -1.6, -1.7, -2.1, -1.5, -1.2, -1.3,
              -2.2, -1.4, -1.5, -2.4, -1.3, -2.5, -1.5, -2.0, -1.4, -2.2,
              -1.4, -1.9, -1.5, -2.6, -1.4, -2.0, -1.5, -2.4, -1.4, -2.0,
              -1.2, -2.3, -1.5, -2.0, -1.3, -2.7, -1.4, -2.1, -1.4, -1.9,
              -1.3, -2.4, -1.2, -2.0, -1.3, -2.5, -1.1, -1.9, -1.2, -2.1,
              -0.9, -1.8, -0.4, -1.1, -1.3, -2.4, -1.3, -2.1, -1.4, -1.9]
inf_hb_132 = [-0.3, -1.0, -1.5, -2.1, -2.0, -1.8, -2.3, -1.6, -1.2, -1.5,
              -2.2, -1.6, -1.7, -3.1, -1.6, -2.4, -1.7, -2.9, -1.5, -2.0,
              -1.5, -2.4, -1.6, -2.7, -1.7, -2.3, -1.4, -2.6, -1.6, -2.1,
              -1.3, -2.5, -1.5, -2.2, -1.4, -2.7, -1.3, -2.1, -1.4, -2.5,
              -1.3, -2.1, -1.2, -2.6, -1.1, -2.0, -1.0, -0.8, -0.8, -1.9,
              -1.0, -2.5, -0.8, -2.0, -1.3, -2.6, -1.2, -2.3, -1.4, -2.1]
inf_hb_133 = [-0.4, -1.1, -1.5, -2.0, -1.7, -2.3, -1.8, -1.5, -1.3, -1.4,
              -2.1, -1.5, -2.3, -1.6, -2.5, -1.5, -2.1, -1.6, -2.4, -1.5,
              -1.5, -2.3, -1.6, -2.1, -1.5, -2.5, -1.6, -2.0, -1.5, -2.2,
              -1.5, -2.0, -1.4, -2.3, -1.5, -2.1, -1.4, -2.4, -1.4, -2.0,
              -1.3, -2.2, -1.2, -1.9, -1.3, -2.1, -1.1, -1.8, -1.2, -2.0,
              -1.1, -1.9, -1.2, -2.2, -1.1, -1.9, -1.2, -2.0, -1.3, -1.8]
inf_hb_134 = [-0.1, -0.8, -1.4, -1.9, -1.6, -1.6, -2.0, -1.4, -1.1, -1.2,
              -2.0, -1.3, -1.5, -2.2, -1.3, -2.4, -1.4, -1.9, -1.3, -2.1,
              -1.4, -1.9, -1.3, -2.3, -1.4, -2.0, -1.3, -2.5, -1.4, -1.9,
              -1.3, -2.3, -1.4, -1.9, -1.3, -2.2, -1.2, -2.4, -1.3, -1.8,
              -1.2, -2.2, -1.1, -1.9, -1.2, -2.3, -1.1, -1.8, -1.1, -2.1,
              -1.1, -1.9, -1.0, -2.2, -1.2, -1.9, -1.1, -2.3, -1.2, -1.8]
inf_hb_135 = [-0.1, -0.7, -1.2, -1.7, -1.4, -1.5, -1.9, -1.3, -1.0, -1.1,
              -1.9, -1.2, -1.4, -2.1, -1.2, -2.2, -1.3, -1.8, -1.2, -2.0,
              -1.2, -1.9, -1.2, -2.2, -1.3, -1.9, -1.2, -2.1, -1.3, -1.8,
              -1.1, -2.1, -1.2, -1.8, -1.1, -2.0, -1.2, -2.2, -1.1, -1.7,
              -1.0, -1.9, -0.9, -1.7, -0.9, -1.9, -0.8, -1.6, -0.9, -1.8,
              -0.9, -1.7, -1.0, -1.9, -1.1, -1.7, -1.2, -1.8, -1.2, -1.6]
inf_hb_136 = [-1.5, -2.0, -2.6, -3.0, -2.5, -2.2, -3.1, -2.0, -1.7, -1.8,
              -3.1, -2.0, -2.4, -3.4, -2.0, -3.0, -1.9, -2.6, -1.8, -3.3,
              -1.8, -2.7, -1.9, -3.5, -1.8, -2.6, -1.7, -3.1, -1.8, -2.7,
              -1.7, -3.2, -1.8, -2.7, -1.7, -3.4, -1.6, -2.8, -1.7, -3.0,
              -1.5, -2.6, -1.4, -3.1, -1.5, -2.8, -1.3, -2.4, -1.4, -3.0,
              -1.3, -2.7, -1.4, -3.5, -1.3, -2.9, -1.4, -3.3, -1.5, -2.8]

sup_lo = [sup_lo_126, sup_lo_127, sup_lo_128, sup_lo_129, sup_lo_130, sup_lo_131,
          sup_lo_132, sup_lo_133, sup_lo_134, sup_lo_135, sup_lo_136]
sup_ha = [sup_ha_126, sup_ha_127, sup_ha_128, sup_ha_129, sup_ha_130, sup_ha_131,
          sup_ha_132, sup_ha_133, sup_ha_134, sup_ha_135, sup_ha_136]
sup_hb = [sup_hb_126, sup_hb_127, sup_hb_128, sup_hb_129, sup_hb_130, sup_hb_131,
          sup_hb_132, sup_hb_133, sup_hb_134, sup_hb_135, sup_hb_136]
inf_lo = [inf_lo_126, inf_lo_127, inf_lo_128, inf_lo_129, inf_lo_130, inf_lo_131,
          inf_lo_132, inf_lo_133, inf_lo_134, inf_lo_135, inf_lo_136]
inf_ha = [inf_ha_126, inf_ha_127, inf_ha_128, inf_ha_129, inf_ha_130, inf_ha_131,
          inf_ha_132, inf_ha_133, inf_ha_134, inf_ha_135, inf_ha_136]
inf_hb = [inf_hb_126, inf_hb_127, inf_hb_128, inf_hb_129, inf_hb_130, inf_hb_131,
          inf_hb_132, inf_hb_133, inf_hb_134, inf_hb_135, inf_hb_136]

#############################
#####      GRAFICA      #####
#############################

plt.rcParams['font.family'] = ['Liberation Sans', 'DejaVu Sans']
plt.rcParams['mathtext.default'] = 'regular'
plt.rcParams['xtick.direction'] = 'in'
plt.rcParams['ytick.direction'] = 'in'

fig = plt.figure(figsize=(11.96, 4.66), dpi=100)
ax_sup = fig.add_axes([0.051, 0.5923, 0.9365, 0.3541])
ax_inf = fig.add_axes([0.051, 0.073, 0.9365, 0.358])


def junta(a, b):
    # intercala dos listas: a0, b0, a1, b1, ...
    out = []
    for x, y in zip(a, b):
        out += [x, y]
    return out


def pinta(ax, f_lo, lo, ha, hb):
    f_hi = junta(f_hi_a, f_hi_b)
    for k in range(len(ids)):
        # las series impares llevan la lista b en la primera rejilla
        if k % 2 == 0:
            v_hi = junta(ha[k], hb[k])
        else:
            v_hi = junta(hb[k], ha[k])
        f = np.array(f_lo + f_hi)
        v = np.array(lo[k] + v_hi)
        n = min(len(f), len(v))
        if estilos[k] == '-':
            ls = '-'
        else:
            ls = (0, (1, 1.3))
        ax.plot(f[:n], 10.0 ** v[:n], color=colores[k], linestyle=ls,
                linewidth=0.8, label=ids[k])


def ejes(ax, xmin, ylim, titulo, familia, tam):
    ax.set_xscale('log')
    ax.set_yscale('log')
    ax.set_xlim(xmin, 100)
    ax.set_ylim(*ylim)
    ax.yaxis.set_major_locator(FixedLocator([1e-4, 1e-2, 1e0]))
    ax.yaxis.set_minor_locator(NullLocator())
    ax.xaxis.set_major_locator(LogLocator(base=10, numticks=10))
    ax.xaxis.set_minor_locator(LogLocator(base=10, subs=np.arange(2, 10), numticks=20))
    ax.grid(True, which='major', axis='both', linestyle=(0, (1, 2.5)),
            color='#303030', linewidth=0.6)
    ax.grid(True, which='minor', axis='x', linestyle=(0, (1, 2.5)),
            color='#303030', linewidth=0.6)
    ax.tick_params(which='both', top=True, right=True, labelsize=9)
    ax.tick_params(which='major', length=5, width=0.7)
    ax.tick_params(which='minor', length=2.5, width=0.6)
    for s in ax.spines.values():
        s.set_linewidth(0.8)
    ax.set_xlabel('Frequency (Hz.)', fontsize=9.5, labelpad=1)
    ax.set_ylabel('TF Amplitude', fontsize=7.5)
    ax.yaxis.set_label_coords(-0.037, 0.5)
    ax.set_title(titulo, fontsize=tam, family=familia, pad=3.5)


pinta(ax_sup, f_lo_sup, sup_lo, sup_ha, sup_hb)
ejes(ax_sup, 0.0055, (1e-4, 10 ** 0.78), titulo_sup, 'Liberation Sans', 10.5)

pinta(ax_inf, f_lo_inf, inf_lo, inf_ha, inf_hb)
ejes(ax_inf, 0.0033, (10 ** -5.4, 10 ** 1.13), titulo_inf, 'Liberation Serif', 11.8)

leg = ax_inf.legend(loc='upper left', bbox_to_anchor=(66 / 1196, 1 - 284 / 466),
                    bbox_transform=fig.transFigure, fontsize=8.5, frameon=True,
                    fancybox=False, framealpha=1, edgecolor='black',
                    borderaxespad=0, borderpad=0.3, handlelength=4.2,
                    handletextpad=0.3, labelspacing=0.12)
leg.get_frame().set_linewidth(0.8)

fig.savefig('out.png', dpi=100)
